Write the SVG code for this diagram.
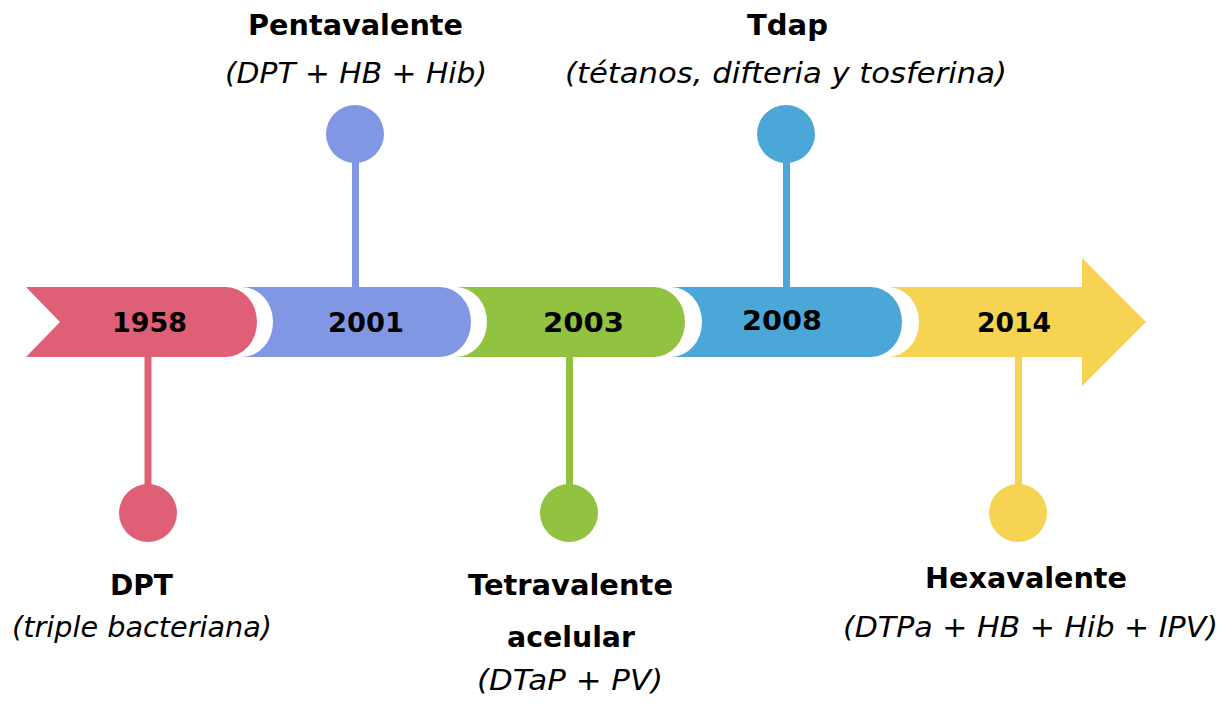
<svg xmlns="http://www.w3.org/2000/svg" width="1230" height="704" viewBox="0 0 1230 704">
<style>
.yr{font-family:"DejaVu Sans",sans-serif;font-weight:700;font-size:27px;fill:#000;text-anchor:middle}
.tt{font-family:"DejaVu Sans",sans-serif;font-weight:700;font-size:29px;fill:#000;text-anchor:middle}
.st{font-family:"DejaVu Sans",sans-serif;font-style:italic;font-size:28.5px;fill:#000;text-anchor:middle}
.gap{fill:#fff}
</style>
<rect width="1230" height="704" fill="#fff"/>
<g id="connectors">
<rect x="144.5" y="357" width="7" height="133" fill="#DF5F77"/>
<rect x="352" y="150" width="7" height="137" fill="#8297E4"/>
<rect x="566" y="357" width="7" height="133" fill="#92C340"/>
<rect x="783" y="150" width="7" height="137" fill="#4AA7D8"/>
<rect x="1015" y="357" width="7" height="133" fill="#F6D352"/>
</g>
<g id="bar">
<path d="M890,287 L1082,287 L1082,258 L1146,322 L1082,386 L1082,357 L890,357 Z" fill="#F6D352"/>
<path class="gap" d="M860,287 L888,287 A31,35 0 0 1 888,357 L860,357 Z"/>
<path d="M670,287 L871,287 A31,35 0 0 1 871,357 L670,357 Z" fill="#4AA7D8"/>
<path class="gap" d="M640,287 L671,287 A31,35 0 0 1 671,357 L640,357 Z"/>
<path d="M455,287 L654,287 A31,35 0 0 1 654,357 L455,357 Z" fill="#92C340"/>
<path class="gap" d="M420,287 L456,287 A31,35 0 0 1 456,357 L420,357 Z"/>
<path d="M240,287 L440,287 A31,35 0 0 1 440,357 L240,357 Z" fill="#8297E4"/>
<path class="gap" d="M200,287 L242,287 A31,35 0 0 1 242,357 L200,357 Z"/>
<path d="M26,287 L226,287 A31,35 0 0 1 226,357 L26,357 L60,322 Z" fill="#DF5F77"/>
</g>
<g id="node-1958">
<text class="yr" x="149.5" y="332" textLength="75" lengthAdjust="spacingAndGlyphs">1958</text>
<circle cx="148" cy="513" r="29" fill="#DF5F77"/>
<text class="tt" x="141.5" y="595" textLength="63" lengthAdjust="spacingAndGlyphs">DPT</text>
<text class="st" x="142" y="637" textLength="260" lengthAdjust="spacingAndGlyphs">(triple bacteriana)</text>
</g>
<g id="node-2001">
<text class="yr" x="366" y="332" textLength="76" lengthAdjust="spacingAndGlyphs">2001</text>
<circle cx="355" cy="134" r="29" fill="#8297E4"/>
<text class="tt" x="355.5" y="35" textLength="215" lengthAdjust="spacingAndGlyphs">Pentavalente</text>
<text class="st" x="356" y="83" textLength="262" lengthAdjust="spacingAndGlyphs">(DPT + HB + Hib)</text>
</g>
<g id="node-2003">
<text class="yr" x="583.5" y="332" textLength="81" lengthAdjust="spacingAndGlyphs">2003</text>
<circle cx="569" cy="513" r="29" fill="#92C340"/>
<text class="tt" x="570.5" y="595" textLength="205" lengthAdjust="spacingAndGlyphs">Tetravalente</text>
<text class="tt" x="571" y="647" textLength="128" lengthAdjust="spacingAndGlyphs">acelular</text>
<text class="st" x="570" y="690" textLength="186" lengthAdjust="spacingAndGlyphs">(DTaP + PV)</text>
</g>
<g id="node-2008">
<text class="yr" x="782" y="330" textLength="80" lengthAdjust="spacingAndGlyphs">2008</text>
<circle cx="786" cy="134" r="29" fill="#4AA7D8"/>
<text class="tt" x="787.5" y="35" textLength="81" lengthAdjust="spacingAndGlyphs">Tdap</text>
<text class="st" x="786" y="83" textLength="442" lengthAdjust="spacingAndGlyphs">(tétanos, difteria y tosferina)</text>
</g>
<g id="node-2014">
<text class="yr" x="1014" y="332" textLength="74" lengthAdjust="spacingAndGlyphs">2014</text>
<circle cx="1018" cy="513" r="29" fill="#F6D352"/>
<text class="tt" x="1026" y="588" textLength="202" lengthAdjust="spacingAndGlyphs">Hexavalente</text>
<text class="st" x="1030.5" y="637" textLength="375" lengthAdjust="spacingAndGlyphs">(DTPa + HB + Hib + IPV)</text>
</g>
</svg>
